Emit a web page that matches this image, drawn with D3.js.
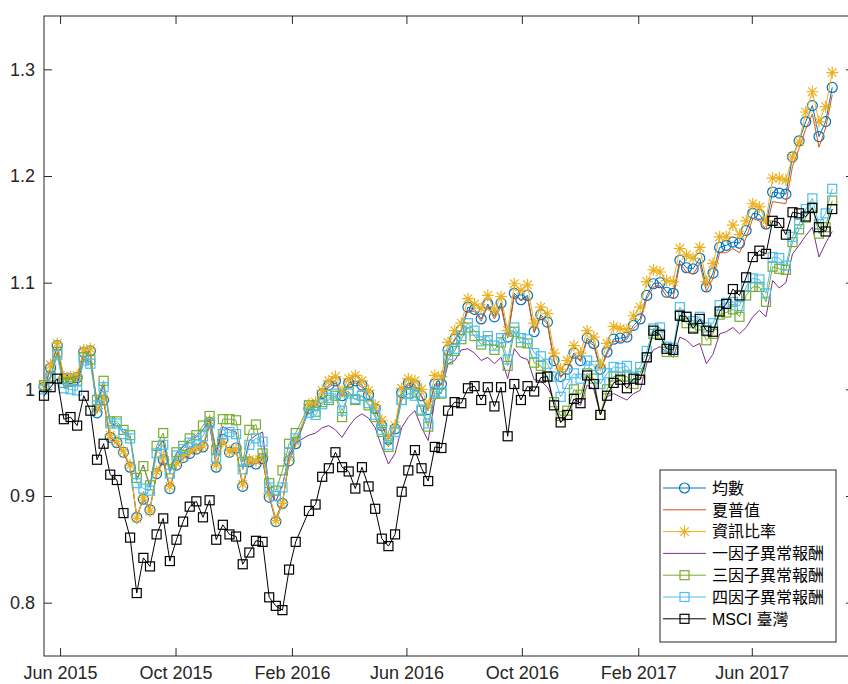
<!DOCTYPE html>
<html>
<head>
<meta charset="utf-8">
<script src="https://cdn.jsdelivr.net/npm/d3@7"></script>
<style>
  html, body { margin: 0; padding: 0; background: #fff; }
  svg { display: block; }
</style>
</head>
<body>
<svg id="chart" width="848" height="684"></svg>
<script>
// Weekly observations (Fridays) starting 15 May 2015; index 39 is the Lunar New Year week with no quote.
const firstWeek = new Date(2015, 4, 15);
const weekCount = 120;

const seriesNames = ["均數", "夏普值", "資訊比率", "一因子異常報酬", "三因子異常報酬", "四因子異常報酬", "MSCI 臺灣"];

const xTickDates = ["2015-06-01", "2015-10-01", "2016-02-01", "2016-06-01", "2016-10-01", "2017-02-01", "2017-06-01"];
const yTickValues = [0.8, 0.9, 1.0, 1.1, 1.2, 1.3];

const meanVals = [
  1.002, 1.020, 1.041, 1.010, 1.010, 1.011, 1.035, 1.036, 0.978, 0.990,
  0.955, 0.950, 0.941, 0.927, 0.880, 0.897, 0.887, 0.921, 0.934, 0.907,
  0.929, 0.936, 0.940, 0.944, 0.946, 0.969, 0.927, 0.953, 0.941, 0.945,
  0.909, 0.932, 0.930, 0.935, 0.899, 0.876, 0.893, 0.933, 0.949, null,
  0.982, 0.985, 0.996, 1.004, 1.008, 0.994, 1.006, 1.008, 1.004, 0.995,
  0.982, 0.966, 0.953, 0.963, 0.997, 1.006, 1.004, 0.994, 0.981, 1.005,
  1.005, 1.037, 1.047, 1.056, 1.077, 1.075, 1.066, 1.080, 1.068, 1.081,
  1.049, 1.090, 1.084, 1.088, 1.054, 1.070, 1.063, 1.027, 1.012, 1.019,
  1.034, 1.027, 1.048, 1.043, 1.019, 1.035, 1.047, 1.048, 1.049, 1.060,
  1.066, 1.088, 1.099, 1.100, 1.091, 1.090, 1.121, 1.114, 1.113, 1.123,
  1.096, 1.109, 1.133, 1.135, 1.138, 1.137, 1.149, 1.165, 1.164, 1.155,
  1.185, 1.184, 1.183, 1.218, 1.233, 1.251, 1.266, 1.237, 1.251, 1.283
];

const sharpeVals = [
  1.000, 1.019, 1.040, 1.009, 1.009, 1.010, 1.034, 1.035, 0.980, 0.989,
  0.953, 0.949, 0.940, 0.928, 0.881, 0.898, 0.889, 0.920, 0.932, 0.908,
  0.929, 0.935, 0.939, 0.943, 0.945, 0.966, 0.929, 0.952, 0.940, 0.943,
  0.910, 0.932, 0.930, 0.934, 0.900, 0.879, 0.895, 0.932, 0.948, null,
  0.980, 0.984, 0.995, 1.002, 1.006, 0.993, 1.004, 1.006, 1.002, 0.994,
  0.981, 0.966, 0.953, 0.962, 0.995, 1.004, 1.002, 0.993, 0.980, 1.003,
  1.004, 1.035, 1.046, 1.055, 1.074, 1.073, 1.064, 1.078, 1.066, 1.078,
  1.048, 1.088, 1.083, 1.086, 1.053, 1.068, 1.061, 1.026, 1.011, 1.018,
  1.032, 1.026, 1.046, 1.041, 1.018, 1.033, 1.045, 1.045, 1.047, 1.057,
  1.063, 1.085, 1.096, 1.097, 1.087, 1.086, 1.118, 1.110, 1.108, 1.118,
  1.092, 1.104, 1.128, 1.128, 1.132, 1.128, 1.142, 1.160, 1.158, 1.150,
  1.176, 1.175, 1.174, 1.209, 1.226, 1.244, 1.258, 1.227, 1.245, 1.276
];

const infoRatioVals = [
  1.004, 1.023, 1.043, 1.012, 1.012, 1.013, 1.037, 1.038, 0.982, 0.992,
  0.957, 0.951, 0.942, 0.929, 0.879, 0.899, 0.886, 0.923, 0.937, 0.909,
  0.931, 0.938, 0.942, 0.945, 0.947, 0.971, 0.929, 0.951, 0.942, 0.944,
  0.911, 0.934, 0.933, 0.937, 0.902, 0.877, 0.893, 0.936, 0.951, null,
  0.986, 0.988, 0.999, 1.008, 1.012, 0.998, 1.010, 1.013, 1.008, 0.999,
  0.985, 0.971, 0.956, 0.966, 1.001, 1.010, 1.008, 1.000, 0.985, 1.013,
  1.012, 1.044, 1.055, 1.062, 1.085, 1.080, 1.076, 1.088, 1.074, 1.087,
  1.055, 1.099, 1.093, 1.098, 1.062, 1.077, 1.071, 1.034, 1.019, 1.027,
  1.041, 1.034, 1.055, 1.049, 1.023, 1.043, 1.059, 1.057, 1.056, 1.069,
  1.077, 1.101, 1.112, 1.110, 1.102, 1.101, 1.132, 1.126, 1.123, 1.133,
  1.101, 1.118, 1.143, 1.143, 1.154, 1.145, 1.158, 1.174, 1.171, 1.158,
  1.198, 1.198, 1.196, 1.218, 1.232, 1.260, 1.279, 1.251, 1.265, 1.297
];

const oneFactorVals = [
  1.002, 1.012, 1.034, 1.003, 1.004, 1.004, 1.028, 1.026, 0.988, 1.004,
  0.968, 0.966, 0.960, 0.955, 0.915, 0.929, 0.908, 0.944, 0.952, 0.923,
  0.940, 0.946, 0.952, 0.955, 0.962, 0.972, 0.940, 0.965, 0.962, 0.960,
  0.925, 0.952, 0.957, 0.960, 0.905, 0.895, 0.910, 0.938, 0.950, null,
  0.957, 0.959, 0.964, 0.966, 0.962, 0.955, 0.965, 0.973, 0.977, 0.973,
  0.964, 0.946, 0.930, 0.940, 0.964, 0.974, 0.980, 0.964, 0.952, 0.990,
  0.998, 1.024, 1.027, 1.037, 1.038, 1.034, 1.027, 1.030, 1.024, 1.030,
  1.010, 1.038, 1.030, 1.028, 1.009, 1.008, 1.002, 0.990, 0.969, 0.977,
  0.988, 0.985, 1.004, 1.000, 0.976, 0.993, 0.996, 0.993, 0.990, 0.996,
  0.999, 1.024, 1.037, 1.040, 1.035, 1.030, 1.049, 1.046, 1.040, 1.043,
  1.024, 1.033, 1.052, 1.054, 1.058, 1.052, 1.058, 1.068, 1.074, 1.068,
  1.102, 1.095, 1.100, 1.127, 1.135, 1.144, 1.152, 1.124, 1.137, 1.148
];

const threeFactorVals = [
  1.004, 1.012, 1.035, 1.006, 1.007, 1.008, 1.030, 1.028, 0.990, 1.008,
  0.970, 0.970, 0.962, 0.957, 0.917, 0.928, 0.910, 0.947, 0.959, 0.925,
  0.941, 0.947, 0.954, 0.957, 0.966, 0.975, 0.943, 0.972, 0.972, 0.971,
  0.932, 0.962, 0.967, 0.940, 0.912, 0.905, 0.924, 0.949, 0.959, null,
  0.985, 0.979, 0.988, 0.990, 0.994, 0.974, 0.998, 0.990, 0.994, 0.985,
  0.974, 0.960, 0.946, 0.960, 0.990, 0.996, 0.997, 0.980, 0.965, 0.996,
  0.996, 1.028, 1.036, 1.047, 1.058, 1.050, 1.042, 1.046, 1.037, 1.044,
  1.022, 1.054, 1.044, 1.043, 1.025, 1.022, 1.012, 0.988, 0.975, 0.980,
  1.000, 0.995, 1.015, 1.010, 0.976, 1.000, 1.012, 1.012, 1.012, 1.005,
  1.015, 1.030, 1.052, 1.052, 1.035, 1.035, 1.070, 1.062, 1.058, 1.060,
  1.046, 1.052, 1.070, 1.072, 1.075, 1.068, 1.088, 1.096, 1.096, 1.082,
  1.115, 1.113, 1.112, 1.138, 1.150, 1.161, 1.171, 1.146, 1.152, 1.177
];

const fourFactorVals = [
  1.000, 1.010, 1.032, 1.001, 1.000, 0.999, 1.027, 1.024, 0.985, 1.002,
  0.968, 0.968, 0.958, 0.954, 0.912, 0.907, 0.905, 0.940, 0.948, 0.921,
  0.938, 0.944, 0.950, 0.952, 0.956, 0.968, 0.936, 0.958, 0.960, 0.958,
  0.925, 0.948, 0.954, 0.951, 0.908, 0.900, 0.908, 0.941, 0.954, null,
  0.978, 0.976, 0.986, 0.992, 0.996, 0.980, 0.996, 0.991, 0.994, 0.987,
  0.976, 0.962, 0.948, 0.960, 0.990, 0.996, 0.994, 0.981, 0.968, 0.998,
  0.997, 1.032, 1.038, 1.050, 1.062, 1.055, 1.045, 1.050, 1.041, 1.048,
  1.028, 1.058, 1.048, 1.047, 1.034, 1.031, 1.024, 1.012, 0.993, 1.005,
  1.015, 1.010, 1.027, 1.022, 1.005, 1.015, 1.021, 1.020, 1.022, 1.012,
  1.021, 1.036, 1.057, 1.058, 1.040, 1.039, 1.077, 1.068, 1.064, 1.068,
  1.058, 1.062, 1.079, 1.081, 1.082, 1.078, 1.096, 1.104, 1.103, 1.090,
  1.124, 1.123, 1.116, 1.143, 1.155, 1.169, 1.179, 1.155, 1.165, 1.188
];

const msciVals = [
  0.994, 1.002, 1.010, 0.972, 0.974, 0.966, 0.994, 0.980, 0.934, 0.949,
  0.920, 0.915, 0.884, 0.861, 0.809, 0.842, 0.834, 0.864, 0.879, 0.839,
  0.859, 0.876, 0.890, 0.895, 0.880, 0.896, 0.859, 0.873, 0.864, 0.862,
  0.836, 0.847, 0.858, 0.857, 0.805, 0.797, 0.793, 0.831, 0.857, null,
  0.886, 0.892, 0.918, 0.926, 0.941, 0.927, 0.923, 0.907, 0.927, 0.909,
  0.888, 0.860, 0.853, 0.864, 0.904, 0.924, 0.943, 0.926, 0.914, 0.946,
  0.945, 0.980, 0.988, 0.987, 1.001, 1.003, 0.990, 1.002, 0.984, 1.002,
  0.956, 1.005, 0.990, 1.003, 0.998, 1.011, 1.012, 0.985, 0.969, 0.976,
  0.991, 0.987, 1.013, 1.005, 0.976, 0.994, 1.006, 1.009, 1.001, 1.010,
  1.009, 1.030, 1.055, 1.051, 1.038, 1.037, 1.069, 1.068, 1.057, 1.066,
  1.055, 1.054, 1.073, 1.080, 1.094, 1.088, 1.105, 1.124, 1.130, 1.127,
  1.158, 1.156, 1.145, 1.166, 1.165, 1.162, 1.170, 1.152, 1.148, 1.169
];

const seriesValues = [meanVals, sharpeVals, infoRatioVals, oneFactorVals, threeFactorVals, fourFactorVals, msciVals];
const seriesColors = ["#0072BD", "#D95319", "#EDB120", "#7E2F8E", "#77AC30", "#4DBEEE", "#000000"];
const seriesMarkers = ["circle", null, "star", null, "square", "square", "square"];

// ---------------------------------------------------------------
const svg = d3.select("#chart");
const W = 848, H = 684;
const plot = { left: 44, right: 854, top: 16, bottom: 656 };
const axisColor = "#262626";
const numFont = "'Liberation Sans', Arial, Helvetica, sans-serif";
const cjkFont = "'Liberation Sans', 'Noto Sans CJK TC', 'Noto Sans CJK SC', sans-serif";

const weekDates = d3.range(weekCount).map(i => d3.timeDay.offset(firstWeek, 7 * i));

const x = d3.scaleTime()
  .domain([new Date(2015, 4, 15), new Date(2017, 8, 17)])
  .range([plot.left, plot.right]);
const y = d3.scaleLinear()
  .domain([0.75, 1.35])
  .range([plot.bottom, plot.top]);

const parseDay = d3.timeParse("%Y-%m-%d");
const xTicks = xTickDates.map(parseDay);
const fmtMonth = d3.timeFormat("%b %Y");
const fmtY = v => d3.format(".1f")(v).replace(/\.0$/, "");

svg.append("rect").attr("width", W).attr("height", H).attr("fill", "#fff");

// axes box and ticks
function styleAxis(g) {
  g.select(".domain").remove();
  g.selectAll(".tick line").attr("stroke", axisColor).attr("stroke-width", 1);
  g.selectAll(".tick text")
    .attr("fill", axisColor)
    .style("font-family", numFont)
    .style("font-size", "18px");
}

svg.append("g")
  .attr("transform", `translate(0,${plot.bottom})`)
  .call(d3.axisBottom(x).tickValues(xTicks).tickFormat(fmtMonth).tickSize(-8).tickPadding(10))
  .call(styleAxis);
svg.append("g")
  .attr("transform", `translate(0,${plot.top})`)
  .call(d3.axisTop(x).tickValues(xTicks).tickFormat("").tickSize(-8))
  .call(styleAxis);
svg.append("g")
  .attr("transform", `translate(${plot.left},0)`)
  .call(d3.axisLeft(y).tickValues(yTickValues).tickFormat(fmtY).tickSize(-8).tickPadding(9))
  .call(styleAxis);
svg.append("g")
  .attr("transform", `translate(${plot.right},0)`)
  .call(d3.axisRight(y).tickValues(yTickValues).tickFormat("").tickSize(-8))
  .call(styleAxis);

svg.append("rect")
  .attr("x", plot.left).attr("y", plot.top)
  .attr("width", plot.right - plot.left).attr("height", plot.bottom - plot.top)
  .attr("fill", "none").attr("stroke", axisColor).attr("stroke-width", 1);

// marker shapes
const starPath = "M-6,0H6M0,-6V6M-4.3,-4.3L4.3,4.3M-4.3,4.3L4.3,-4.3";
function drawMarker(g, type, color) {
  if (type === "circle") {
    g.append("circle").attr("r", 5).attr("fill", "none").attr("stroke", color).attr("stroke-width", 1.2);
  } else if (type === "square") {
    g.append("rect").attr("x", -4.5).attr("y", -4.5).attr("width", 9).attr("height", 9)
      .attr("fill", "none").attr("stroke", color).attr("stroke-width", 1.2);
  } else if (type === "star") {
    g.append("path").attr("d", starPath).attr("fill", "none").attr("stroke", color).attr("stroke-width", 1.2);
  }
}

const line = d3.line().x(p => x(p.date)).y(p => y(p.value));
const lines = svg.append("g");

seriesValues.forEach((vals, s) => {
  const pts = weekDates.map((date, i) => ({ date, value: vals[i] })).filter(p => p.value != null);
  const g = lines.append("g").attr("class", "series");
  g.append("path")
    .attr("d", line(pts))
    .attr("fill", "none")
    .attr("stroke", seriesColors[s])
    .attr("stroke-width", 1)
    .attr("stroke-linejoin", "round");
  if (seriesMarkers[s]) {
    g.selectAll("g.mk").data(pts).join("g").attr("class", "mk")
      .attr("transform", p => `translate(${x(p.date)},${y(p.value)})`)
      .each(function () { drawMarker(d3.select(this), seriesMarkers[s], seriesColors[s]); });
  }
});

// legend
const legend = { x: 660, y: 470, w: 176, h: 172, row: 21.8 };
const lg = svg.append("g");
lg.append("rect")
  .attr("x", legend.x).attr("y", legend.y).attr("width", legend.w).attr("height", legend.h)
  .attr("fill", "#fff").attr("stroke", axisColor).attr("stroke-width", 1);
seriesNames.forEach((name, s) => {
  const cy = legend.y + 18 + s * legend.row;
  const item = lg.append("g");
  item.append("line")
    .attr("x1", legend.x + 3).attr("x2", legend.x + 46)
    .attr("y1", cy).attr("y2", cy)
    .attr("stroke", seriesColors[s]).attr("stroke-width", 1);
  if (seriesMarkers[s]) {
    const m = item.append("g").attr("transform", `translate(${legend.x + 24.5},${cy})`);
    drawMarker(m, seriesMarkers[s], seriesColors[s]);
  }
  item.append("text")
    .attr("x", legend.x + 52).attr("y", cy)
    .attr("dy", "0.36em")
    .attr("fill", "#000")
    .style("font-family", cjkFont)
    .style("font-size", "16px")
    .text(name);
});
</script>
</body>
</html>
